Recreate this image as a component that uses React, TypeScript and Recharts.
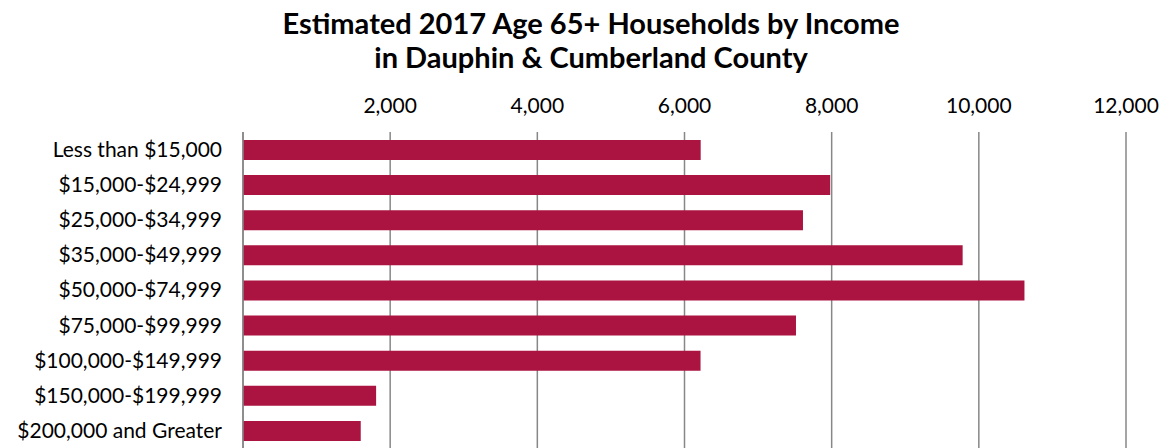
import React from "react";
import { BarChart, Bar, XAxis, YAxis, CartesianGrid } from "recharts";

const categories = [
  "Less than $15,000",
  "$15,000-$24,999",
  "$25,000-$34,999",
  "$35,000-$49,999",
  "$50,000-$74,999",
  "$75,000-$99,999",
  "$100,000-$149,999",
  "$150,000-$199,999",
  "$200,000 and Greater",
];
const households = [6220, 7980, 7610, 9780, 10620, 7515, 6218, 1809, 1600];
const xTicks = [2000, 4000, 6000, 8000, 10000, 12000];
const titleLines = ["Estimated 2017 Age 65+ Households by Income", "in Dauphin & Cumberland County"];

const data = categories.map((c, i) => ({ category: c, value: households[i] }));

const FONT = "Lato, 'Noto Sans', sans-serif";

export default function App() {
  return (
    <div style={{ position: "absolute", left: 0, top: 0, width: 1164, height: 448, background: "#fff", fontFamily: FONT }}>
      <div
        style={{
          position: "absolute",
          left: 0,
          top: 6,
          width: 1182,
          textAlign: "center",
          fontWeight: 700,
          fontSize: 29,
          lineHeight: "34px",
          color: "#000",
        }}
      >
        {titleLines.map((t) => (
          <div key={t}>{t}</div>
        ))}
      </div>
      <BarChart
        width={1164}
        height={448}
        data={data}
        layout="vertical"
        margin={{ top: 102, right: 38, left: 0, bottom: 0 }}
        barCategoryGap={15}
      >
        <CartesianGrid horizontal={false} stroke="#878787" strokeWidth={1.5} />
        <XAxis
          type="number"
          orientation="top"
          domain={[0, 12000]}
          ticks={xTicks}
          height={30}
          axisLine={false}
          tickLine={false}
          tickSize={0}
          tickMargin={19}
          tickFormatter={(v: number) => v.toLocaleString("en-US")}
          tick={{ fill: "#000", fontSize: 21, fontFamily: FONT }}
        />
        <YAxis
          type="category"
          dataKey="category"
          width={243}
          axisLine={{ stroke: "#878787", strokeWidth: 1.5 }}
          tickLine={false}
          tickSize={0}
          tickMargin={21}
          interval={0}
          tick={{ fill: "#000", fontSize: 21, fontFamily: FONT }}
        />
        <Bar dataKey="value" fill="#ab1340" barSize={20} isAnimationActive={false} />
      </BarChart>
    </div>
  );
}
